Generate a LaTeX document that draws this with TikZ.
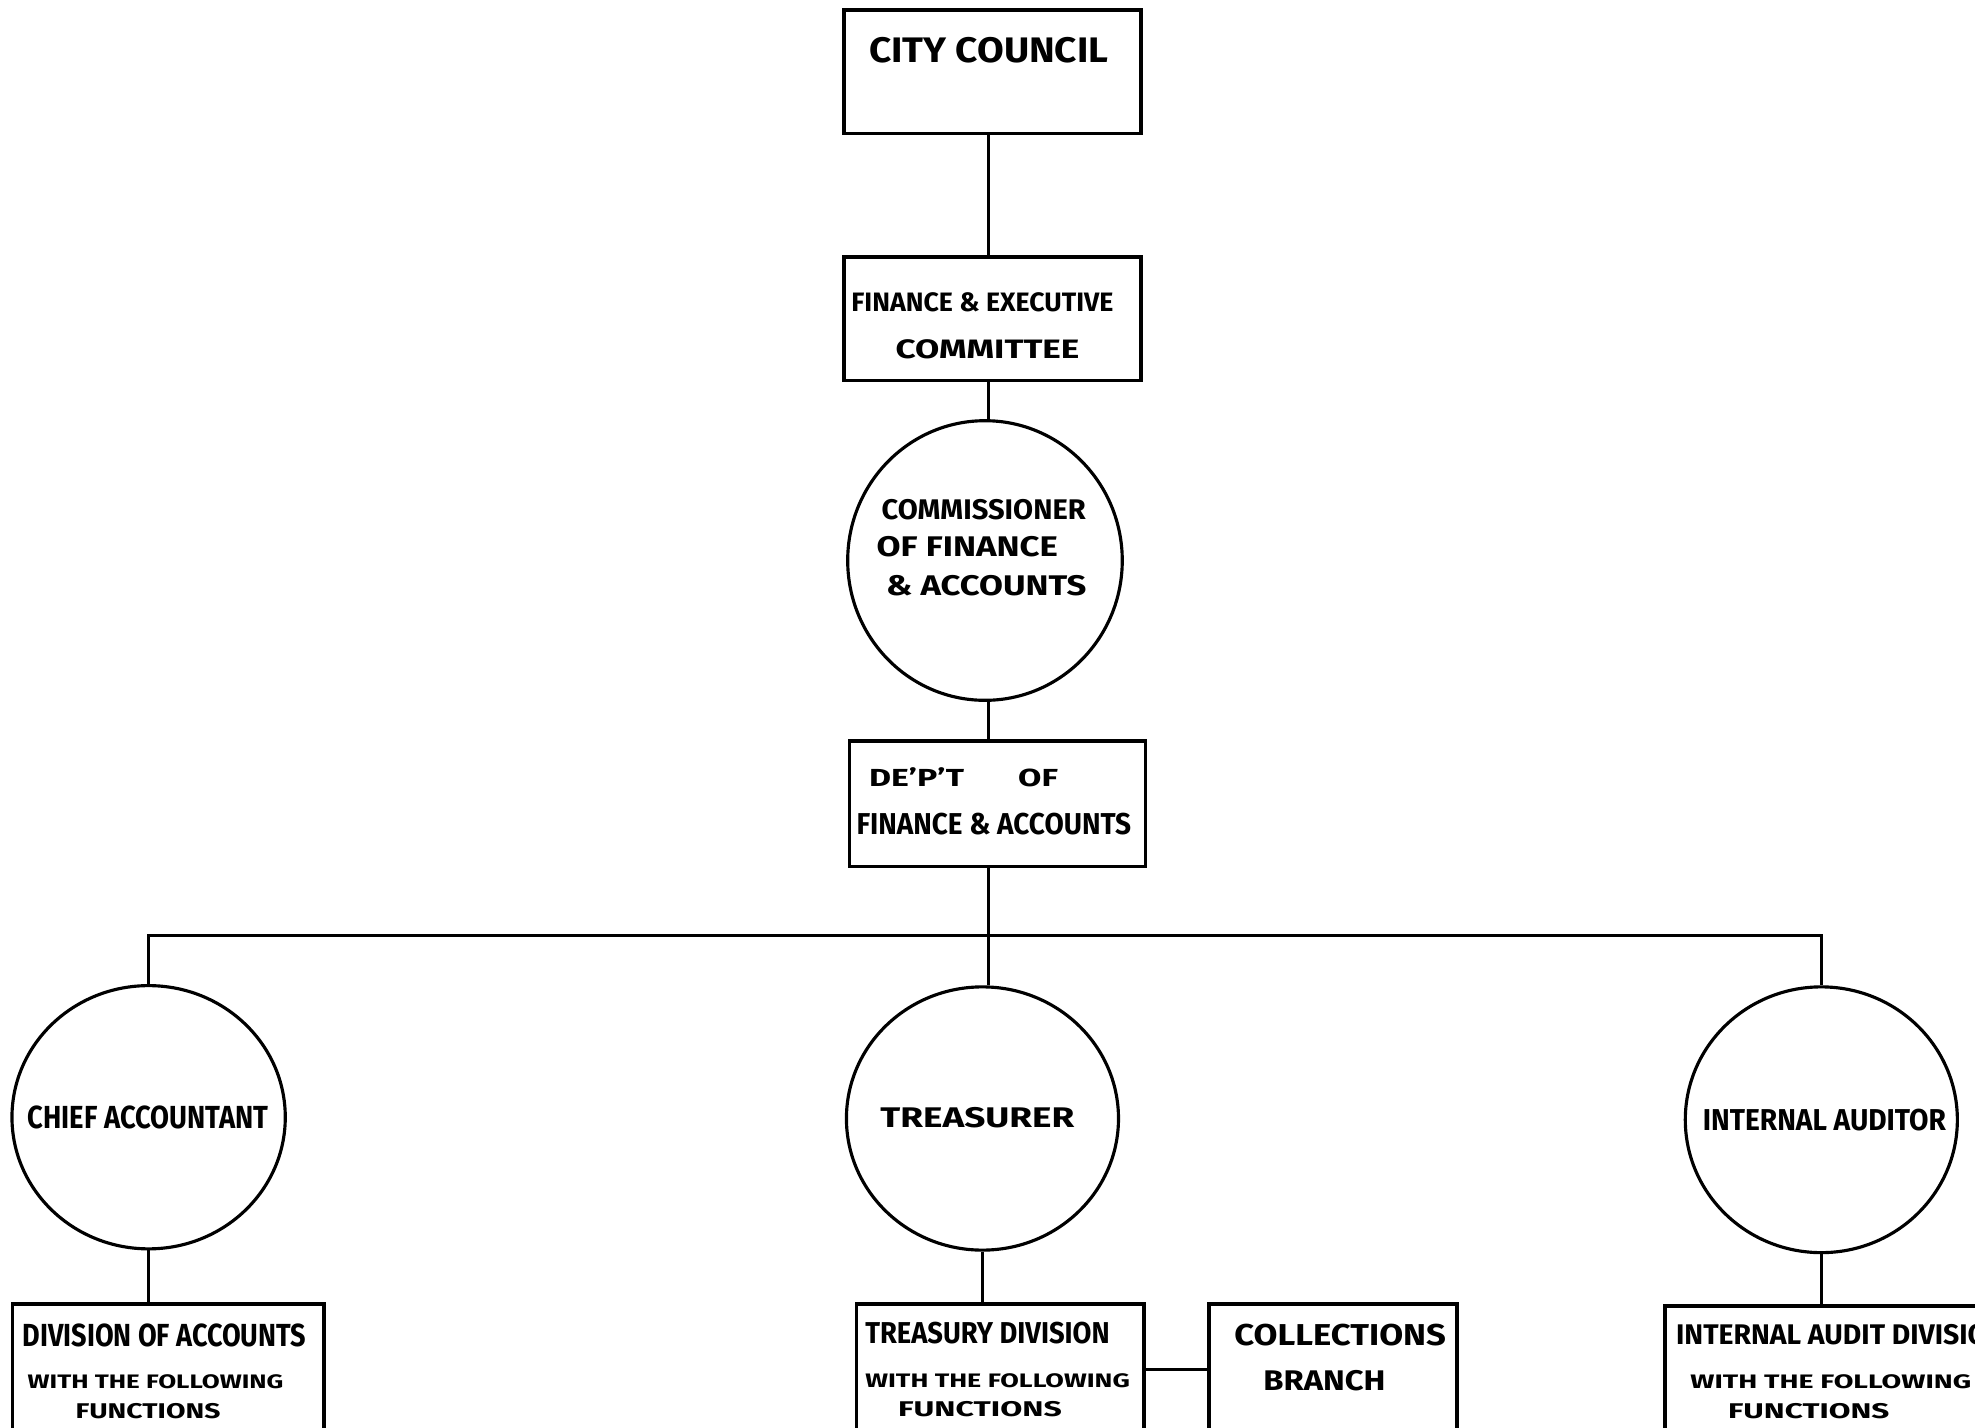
\documentclass[tikz,border=0pt]{standalone}
\usepackage{fontspec}
\setmainfont{Fira Sans}
\usepackage{graphicx}
\usetikzlibrary{shapes.geometric}
\newcommand{\hand}[3]{\resizebox{#1mm}{#2mm}{\bfseries #3}}

\begin{document}
\begin{tikzpicture}[x=0.1mm,y=-0.1mm,
    box/.style={draw,line width=0.3mm,rectangle,inner sep=0pt},
    ring/.style={draw,line width=0.25mm,ellipse,inner sep=0pt},
    txt/.style={inner sep=0pt},
    wire/.style={line width=0.25mm}]
\useasboundingbox (0,0) rectangle (1568,1133);
\clip (0,0) rectangle (1568,1133);

% top column
\node[box,minimum width=23.6mm,minimum height=9.8mm] (cc) at (788,57) {};
\node[box,minimum width=23.6mm,minimum height=9.8mm] (fec) at (788,253) {};
\node[ring,minimum width=21.8mm,minimum height=22.2mm] (comm) at (782,445) {};
\node[box,minimum width=23.5mm,minimum height=10mm] (dept) at (792,638) {};

% second row
\node[ring,minimum width=21.7mm,minimum height=20.9mm] (ca) at (118,887) {};
\node[ring,minimum width=21.6mm,minimum height=20.9mm] (tr) at (780,888) {};
\node[ring,minimum width=21.6mm,minimum height=21.1mm] (ia) at (1446,889) {};

% bottom boxes (run past the edge)
\node[box,minimum width=24.7mm,minimum height=10.4mm] (doa) at (133.5,1087) {};
\node[box,minimum width=22.8mm,minimum height=10.4mm] (td) at (794,1087) {};
\node[box,minimum width=19.7mm,minimum height=10.4mm] (cb) at (1058.5,1087) {};
\node[box,minimum width=27.8mm,minimum height=10.4mm] (iad) at (1461,1089) {};

% lettering
\node[txt] (cct) at (785,40) {\hand{19.0}{2.0}{CITY COUNCIL}};
\node[txt] (fect1) at (780,240) {\hand{20.8}{1.5}{FINANCE \& EXECUTIVE}};
\node[txt] (fect2) at (784,277) {\hand{14.6}{1.5}{COMMITTEE}};
\node[txt] (comt1) at (781,405) {\hand{16.2}{1.6}{COMMISSIONER}};
\node[txt] (comt2) at (768,434) {\hand{14.4}{1.6}{OF FINANCE}};
\node[txt] (comt3) at (783,465) {\hand{15.9}{1.6}{\& ACCOUNTS}};
\node[txt] (dept1) at (765,617) {\hand{15.0}{1.5}{DE'P'T\hspace{1.6em}OF}};
\node[txt] (dept2) at (789,654) {\hand{21.8}{1.7}{FINANCE \& ACCOUNTS}};
\node[txt] (cat) at (117.5,887) {\hand{19.1}{1.8}{CHIEF ACCOUNTANT}};
\node[txt] (trt) at (776,887) {\hand{15.4}{1.6}{TREASURER}};
\node[txt] (iat) at (1448.5,889) {\hand{19.3}{1.7}{INTERNAL AUDITOR}};
\node[txt] (doat1) at (130.5,1060) {\hand{22.5}{1.8}{DIVISION OF ACCOUNTS}};
\node[txt] (doat2) at (123.5,1097) {\hand{20.3}{1.1}{WITH THE FOLLOWING}};
\node[txt] (doat3) at (117.5,1120) {\hand{11.5}{1.2}{FUNCTIONS}};
\node[txt] (tdt1) at (784,1058) {\hand{19.4}{1.7}{TREASURY DIVISION}};
\node[txt] (tdt2) at (792,1096) {\hand{21.0}{1.1}{WITH THE FOLLOWING}};
\node[txt] (tdt3) at (778,1119) {\hand{13.0}{1.2}{FUNCTIONS}};
\node[txt] (cbt1) at (1064,1060) {\hand{16.8}{1.7}{COLLECTIONS}};
\node[txt] (cbt2) at (1051.5,1096) {\hand{9.7}{1.6}{BRANCH}};
\node[txt,anchor=west] (iadt1) at (1330,1060) {\hand{26.2}{1.6}{INTERNAL AUDIT DIVISION}};
\node[txt] (iadt2) at (1453.5,1097) {\hand{22.3}{1.1}{WITH THE FOLLOWING}};
\node[txt] (iadt3) at (1436,1120) {\hand{12.8}{1.2}{FUNCTIONS}};

% connectors
\coordinate (col) at (785,0);
\coordinate (bus) at (785,743);
\draw[wire] (cc.south -| col) -- (fec.north -| col);
\draw[wire] (fec.south -| col) -- (comm.north -| col);
\draw[wire] (comm.south -| col) -- (dept.north -| col);
\draw[wire] (dept.south -| col) -- (bus) -- (tr.north -| bus);
\draw[wire] (ca.north) -- (ca.north |- bus) -- (ia.north |- bus) -- (ia.north);
\draw[wire] (ca.south) -- (ca.south |- doa.north);
\draw[wire] (tr.south) -- (tr.south |- td.north);
\draw[wire] (ia.south) -- (ia.south |- iad.north);
\draw[wire] (td.east) -- (cb.west);
\end{tikzpicture}
\end{document}
